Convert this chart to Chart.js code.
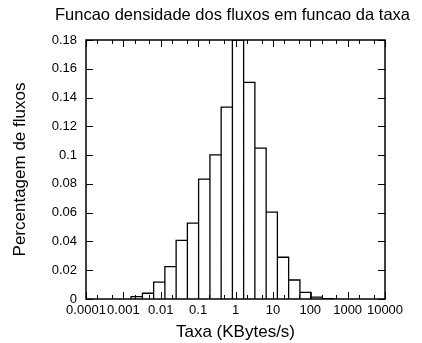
<!DOCTYPE html>
<html>
<head>
<meta charset="utf-8">
<script src="https://cdn.jsdelivr.net/npm/chart.js@4/dist/chart.umd.min.js"></script>
<style>
    html, body { margin: 0; padding: 0; background: #fff; }
    #wrap { width: 422px; height: 343px; }
</style>
</head>
<body>
<div id="wrap"><canvas id="chart" width="422" height="343"></canvas></div>
<script>
// Histogram bins (KBytes/s)
const binEdges = [0.00161, 0.00323, 0.00645, 0.0129, 0.0258, 0.0516, 0.103, 0.207, 0.413, 0.826,
    1.65, 3.30, 6.61, 13.2, 26.4, 52.9, 106, 211, 423];
const binHeights = [0.0016, 0.0040, 0.0117, 0.0225, 0.0407, 0.0528, 0.0833, 0.1002, 0.1333, 0.1800,
    0.1505, 0.1049, 0.0604, 0.0290, 0.0132, 0.0046, 0.0013, 0.0003];

// Axis ticks
const xTickValues = [0.0001, 0.001, 0.01, 0.1, 1, 10, 100, 1000, 10000];
const xTickLabels = ['0.0001', '0.001', '0.01', '0.1', '1', '10', '100', '1000', '10000'];
const xMinorTicks = [0.0002, 0.0005, 0.002, 0.005, 0.02, 0.05, 0.2, 0.5, 2, 5, 20, 50, 200, 500, 2000, 5000];
const yTickValues = [0, 0.02, 0.04, 0.06, 0.08, 0.1, 0.12, 0.14, 0.16, 0.18];
const yTickLabels = ['0', '0.02', '0.04', '0.06', '0.08', '0.1', '0.12', '0.14', '0.16', '0.18'];

const FONT = "'Liberation Sans', Arial, sans-serif";

// Build the outline of every bar as one path
const outline = [];
for (let i = 0; i < binHeights.length; i++) {
    outline.push({ x: binEdges[i], y: 0 });
    outline.push({ x: binEdges[i], y: binHeights[i] });
    outline.push({ x: binEdges[i + 1], y: binHeights[i] });
    outline.push({ x: binEdges[i + 1], y: 0 });
}

// Frame, inward ticks (mirrored) and title
const framePlugin = {
    id: 'frame',
    afterDraw(chart) {
        const ctx = chart.ctx;
        const area = chart.chartArea;
        const xs = chart.scales.x;
        const ys = chart.scales.y;
        ctx.save();
        ctx.strokeStyle = '#000';
        ctx.lineWidth = 1;
        ctx.beginPath();
        const tick = (x1, y1, x2, y2) => {
            ctx.moveTo(x1, y1);
            ctx.lineTo(x2, y2);
        };
        xTickValues.forEach(v => {
            const px = Math.round(xs.getPixelForValue(v)) + 0.5;
            tick(px, area.bottom, px, area.bottom - 7);
            tick(px, area.top, px, area.top + 7);
        });
        xMinorTicks.forEach(v => {
            const px = Math.round(xs.getPixelForValue(v)) + 0.5;
            tick(px, area.bottom, px, area.bottom - 4);
            tick(px, area.top, px, area.top + 4);
        });
        yTickValues.forEach(v => {
            const py = Math.round(ys.getPixelForValue(v)) + 0.5;
            tick(area.left, py, area.left + 7, py);
            tick(area.right, py, area.right - 7, py);
        });
        ctx.stroke();

        ctx.lineWidth = 1.5;
        ctx.strokeRect(area.left, area.top, area.right - area.left, area.bottom - area.top);

        ctx.fillStyle = '#000';
        ctx.font = '16.5px ' + FONT;
        ctx.textAlign = 'center';
        ctx.textBaseline = 'middle';
        ctx.fillText('Funcao densidade dos fluxos em funcao da taxa', (area.left + area.right) / 2 - 3, 15);
        ctx.restore();
    }
};

const ctx = document.getElementById('chart').getContext('2d');
const chart = new Chart(ctx, {
    type: 'scatter',
    data: {
        datasets: [{
            data: outline,
            showLine: true,
            borderColor: '#000',
            borderWidth: 1.3,
            pointRadius: 0,
            tension: 0,
            fill: false
        }]
    },
    options: {
        responsive: false,
        animation: false,
        layout: { padding: { top: 40, right: 37, left: 0, bottom: 0 } },
        plugins: {
            legend: { display: false },
            tooltip: { enabled: false },
            title: { display: false }
        },
        scales: {
            x: {
                type: 'logarithmic',
                min: 0.0001,
                max: 10000,
                afterBuildTicks: (scale) => {
                    scale.ticks = xTickValues.map(v => ({ value: v }));
                },
                afterFit: (scale) => { scale.height = 44; },
                ticks: {
                    autoSkip: false,
                    maxRotation: 0,
                    padding: 4,
                    color: '#000',
                    font: { family: FONT, size: 13 },
                    callback: (val, i) => xTickLabels[i]
                },
                grid: { display: false, drawTicks: false },
                border: { display: false },
                title: {
                    display: true,
                    text: 'Taxa (KBytes/s)',
                    color: '#000',
                    font: { family: FONT, size: 17 },
                    padding: { top: 0, bottom: 0 }
                }
            },
            y: {
                min: 0,
                max: 0.18,
                afterBuildTicks: (scale) => {
                    scale.ticks = yTickValues.map(v => ({ value: v }));
                },
                afterFit: (scale) => { scale.width = 86; },
                ticks: {
                    padding: 9,
                    color: '#000',
                    font: { family: FONT, size: 13 },
                    callback: (val, i) => yTickLabels[i]
                },
                grid: { display: false, drawTicks: false },
                border: { display: false },
                title: {
                    display: true,
                    text: 'Percentagem de fluxos',
                    color: '#000',
                    font: { family: FONT, size: 17 },
                    padding: { top: 10, bottom: 0 }
                }
            }
        }
    },
    plugins: [framePlugin]
});
</script>
</body>
</html>
